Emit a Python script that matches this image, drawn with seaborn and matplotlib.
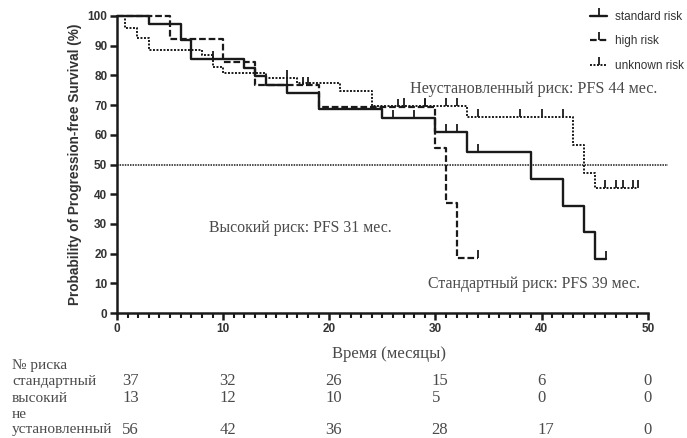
import numpy as np
import pandas as pd
import matplotlib
matplotlib.use("Agg")
import matplotlib.pyplot as plt
from matplotlib.lines import Line2D
from matplotlib.ticker import FixedLocator
import seaborn as sns

# Kaplan-Meier step curves: time of each step (months) and survival after it (%)
std_time = [0, 3, 6, 7, 12, 13, 14, 16, 19, 25, 30, 33, 39, 42, 44, 45, 46.1]
std_surv = [100, 97.3, 91.9, 85.5, 82.4, 79.8, 76.8, 74.0, 68.7, 65.5, 61.0, 54.3, 45.1, 36.1, 27.2, 18.1, 18.1]
std_cens_t = [9, 26, 28, 31, 32, 34, 46.1]
std_cens_s = [85.5, 65.5, 65.5, 61.0, 61.0, 54.3, 18.1]

high_time = [0, 5, 10, 13, 19, 30, 31, 32, 34]
high_surv = [100, 92.3, 84.6, 76.9, 69.2, 55.4, 36.9, 18.5, 18.5]
high_cens_t = [16, 17.5, 18, 26.5, 29, 34]
high_cens_s = [76.9, 76.9, 76.9, 69.2, 69.2, 18.5]

unk_time = [0, 0.8, 1.9, 3, 8, 9, 10, 14, 17, 21, 24, 33, 43, 44, 45, 49.1]
unk_surv = [100, 95.8, 92.5, 88.6, 86.9, 82.9, 80.9, 79.0, 77.5, 74.9, 69.7, 66.1, 56.5, 47.0, 42.0, 42.0]
unk_cens_t = [16, 27, 29, 31, 32, 34, 38, 40, 42, 46, 47, 47.7, 48.6, 49.1]
unk_cens_s = [79.0, 69.7, 69.7, 69.7, 69.7, 66.1, 66.1, 66.1, 66.1, 42.0, 42.0, 42.0, 42.0, 42.0]

groups = ["standard risk", "high risk", "unknown risk"]

# Numbers at risk
risk_months = [0, 10, 20, 30, 40, 50]
risk_std = [37, 32, 26, 15, 6, 0]
risk_high = [13, 12, 10, 5, 0, 0]
risk_unk = [56, 42, 36, 28, 17, 0]

# Median PFS annotations
ann_unk = "Неустановленный риск: PFS 44 мес."
ann_high = "Высокий риск: PFS 31 мес."
ann_std = "Стандартный риск: PFS 39 мес."

sns.set_theme(style="white")
plt.rcParams["font.family"] = ["Liberation Sans", "DejaVu Sans"]

df = pd.concat([
    pd.DataFrame({"t": std_time, "S": std_surv, "group": groups[0]}),
    pd.DataFrame({"t": high_time, "S": high_surv, "group": groups[1]}),
    pd.DataFrame({"t": unk_time, "S": unk_surv, "group": groups[2]}),
], ignore_index=True)

W, H = 687, 438
fig = plt.figure(figsize=(W / 100, H / 100), dpi=100)
ax = fig.add_axes([117 / W, 1 - 313 / H, (669 - 117) / W, (313 - 16) / H])

ink = "#1a1a1a"
styles = {
    groups[0]: dict(ls="-", lw=1.7),
    groups[1]: dict(ls=(0, (3.0, 1.3)), lw=1.6),
    groups[2]: dict(ls=(0, (1.0, 0.8)), lw=1.4),
}

sns.lineplot(data=df, x="t", y="S", hue="group", palette=[ink] * 3,
             estimator=None, sort=False, drawstyle="steps-post",
             legend=False, ax=ax)
for line, g in zip(ax.get_lines(), groups):
    line.set_linestyle(styles[g]["ls"])
    line.set_linewidth(styles[g]["lw"])
    line.set_clip_on(False)

# censoring marks (small upward ticks)
for ct, cs in [(std_cens_t, std_cens_s), (high_cens_t, high_cens_s), (unk_cens_t, unk_cens_s)]:
    ax.plot(ct, cs, linestyle="none", marker=2, markersize=6,
            markeredgewidth=1.3, color=ink, clip_on=False)

# 50% reference line
ax.plot([0, 51.9], [50, 50], ls=(0, (1.0, 0.7)), lw=1.1, color=ink, clip_on=False)

ax.set_xlim(0, 52)
ax.set_ylim(0, 100)
ax.set_xticks(range(0, 51, 10))
ax.xaxis.set_minor_locator(FixedLocator([m for m in range(0, 51) if m % 10]))
ax.set_yticks(range(0, 101, 10))
for s in ["top", "right"]:
    ax.spines[s].set_visible(False)
for s in ["left", "bottom"]:
    ax.spines[s].set_linewidth(1.8)
    ax.spines[s].set_color(ink)
ax.spines["bottom"].set_bounds(0, 50)
ax.tick_params(axis="both", which="major", direction="out", length=5, width=1.8,
               color=ink, labelsize=8.5, labelcolor="#333333", pad=2, bottom=True, left=True)
ax.tick_params(axis="x", which="minor", direction="out", length=3.5, width=1.5,
               color=ink, bottom=True)
for lab in ax.get_xticklabels() + ax.get_yticklabels():
    lab.set_fontweight("bold")
ax.set_xlabel("")
ax.set_ylabel("Probability of Progression-free Survival (%)", fontsize=9.8,
              fontweight="bold", color="#333333", labelpad=4)

serif = ["Liberation Serif", "DejaVu Serif"]
gray = "#4a4a4a"
ax.text(27.6, 75.4, ann_unk, family=serif, fontsize=11.6, color=gray, va="center", ha="left")
ax.text(8.66, 28.6, ann_high, family=serif, fontsize=11.4, color=gray, va="center", ha="left")
ax.text(29.3, 9.8, ann_std, family=serif, fontsize=11.4, color=gray, va="center", ha="left")

# legend
handles = [Line2D([0], [0], color=ink, marker=2, markersize=6, markeredgewidth=1.3,
                  ls=styles[g]["ls"], lw=styles[g]["lw"]) for g in groups]
fig.legend(handles, groups, loc="upper left", bbox_to_anchor=(585 / W, 1 - 6 / H),
           frameon=False, fontsize=8.5, handlelength=1.5, handletextpad=0.6,
           labelspacing=1.08, labelcolor="#333333", borderaxespad=0)

# x axis title
fig.text(389 / W, 1 - 354 / H, "Время (месяцы)", family=serif, fontsize=12,
         color=gray, ha="center", va="center")

# numbers-at-risk table
row_text = [("№ риска", 366), ("стандартный", 381), ("высокий", 398),
            ("не", 414), ("установленный", 430)]
for lab, y in row_text:
    fig.text(12 / W, 1 - y / H, lab, family=serif, fontsize=11, color=gray, va="center")
num_y = [381, 398, 430]
for vals, y in zip([risk_std, risk_high, risk_unk], num_y):
    for m, v in zip(risk_months, vals):
        x_px = ax.transData.transform((m, 0))[0]
        x_px = max(x_px - 4, 122)
        fig.text(x_px / W, 1 - y / H, str(v), family=serif, fontsize=12,
                 color=gray, ha="left", va="center")

fig.savefig("out.png", dpi=100, facecolor="white")
